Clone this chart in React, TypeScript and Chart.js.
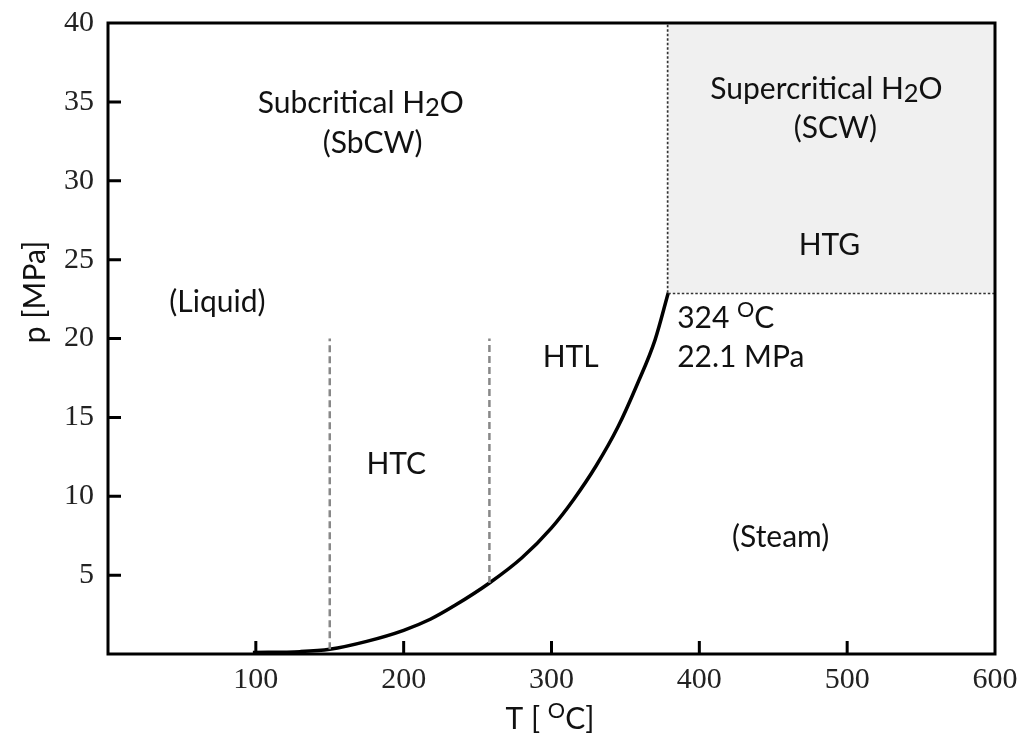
import React, { useEffect, useRef } from "react";
import { Chart, registerables } from "chart.js";

Chart.register(...registerables);

// Saturation curve (T in °C, p in MPa)
const CURVE_T = [98, 130, 150, 175, 200, 218, 235, 258, 280, 300, 315, 330, 345, 358, 370, 379];
const CURVE_P = [0.1, 0.15, 0.3, 0.8, 1.5, 2.2, 3.1, 4.5, 6.1, 8.0, 9.8, 11.9, 14.4, 17.1, 19.9, 22.9];

// Process boundaries
const HTC_LINE_T = [150, 150];
const HTC_LINE_P = [0.3, 20];
const HTL_LINE_T = [258, 258];
const HTL_LINE_P = [4.5, 20];

// Critical point boundaries
const CRIT_T = 379;
const CRIT_P = 22.9;
const T_MAX = 600;
const P_MAX = 40;

const X_TICKS = [0, 100, 200, 300, 400, 500, 600];
const Y_TICKS = [0, 5, 10, 15, 20, 25, 30, 35, 40];

// Region labels: [T, p] positions
const LABELS: { text: string[]; t: number; p: number; align: "center" | "left" }[] = [
  { text: ["Subcritical H", "_2", "O"], t: 171, p: 34.9, align: "center" },
  { text: ["(SbCW)"], t: 179, p: 32.4, align: "center" },
  { text: ["Supercritical H", "_2", "O"], t: 486, p: 35.8, align: "center" },
  { text: ["(SCW)"], t: 492, p: 33.3, align: "center" },
  { text: ["HTG"], t: 488, p: 25.9, align: "center" },
  { text: ["324 ", "^O", "C"], t: 385, p: 21.3, align: "left" },
  { text: ["22.1 MPa"], t: 385, p: 18.8, align: "left" },
  { text: ["HTL"], t: 313, p: 18.8, align: "center" },
  { text: ["HTC"], t: 195, p: 12.0, align: "center" },
  { text: ["(Liquid)"], t: 74, p: 22.3, align: "center" },
  { text: ["(Steam)"], t: 455, p: 7.4, align: "center" },
];

const SANS = "Lato, 'Open Sans', sans-serif";
const FS = 30;

function drawRich(ctx: CanvasRenderingContext2D, parts: string[], x: number, y: number, align: string, size: number) {
  const segs = parts.map((p) => {
    if (p.startsWith("_")) return { t: p.slice(1), s: size * 0.85, dy: size * 0.16 };
    if (p.startsWith("^")) return { t: p.slice(1), s: size * 0.72, dy: -size * 0.28 };
    return { t: p, s: size, dy: 0 };
  });
  let total = 0;
  for (const s of segs) {
    ctx.font = `${s.s}px ${SANS}`;
    total += ctx.measureText(s.t).width;
  }
  let cx = align === "center" ? x - total / 2 : x;
  ctx.textAlign = "left";
  ctx.textBaseline = "middle";
  for (const s of segs) {
    ctx.font = `${s.s}px ${SANS}`;
    ctx.fillText(s.t, cx, y + s.dy);
    cx += ctx.measureText(s.t).width;
  }
}

const overlayPlugin = {
  id: "overlay",
  afterDraw(chart: any) {
    const { ctx, chartArea, scales } = chart;
    const xs = scales.x;
    const ys = scales.y;
    ctx.save();
    // frame
    ctx.strokeStyle = "#000";
    ctx.lineWidth = 3;
    ctx.strokeRect(chartArea.left, chartArea.top, chartArea.right - chartArea.left, chartArea.bottom - chartArea.top);
    // inward ticks
    ctx.lineWidth = 3;
    ctx.beginPath();
    for (const v of Y_TICKS) {
      if (v === 0 || v === P_MAX) continue;
      const py = ys.getPixelForValue(v);
      ctx.moveTo(chartArea.left, py);
      ctx.lineTo(chartArea.left + 13, py);
    }
    for (const v of X_TICKS) {
      if (v === 0 || v === T_MAX) continue;
      const px = xs.getPixelForValue(v);
      ctx.moveTo(px, chartArea.bottom);
      ctx.lineTo(px, chartArea.bottom - 13);
    }
    ctx.stroke();
    // labels
    ctx.fillStyle = "#111";
    for (const l of LABELS) {
      drawRich(ctx, l.text, xs.getPixelForValue(l.t), ys.getPixelForValue(l.p), l.align, FS);
    }
    // axis titles
    ctx.save();
    ctx.translate(35, 292);
    ctx.rotate(-Math.PI / 2);
    drawRich(ctx, ["p [MPa]"], 0, 0, "center", FS);
    ctx.restore();
    drawRich(ctx, ["T [ ", "^O", "C]"], 550, 719, "center", FS);
    ctx.restore();
  },
};

function zeroPad(s: any) {
  s.paddingTop = 0;
  s.paddingBottom = 0;
  s.paddingLeft = 0;
  s.paddingRight = 0;
}

export default function App() {
  const ref = useRef<HTMLCanvasElement>(null);
  useEffect(() => {
    if (!ref.current) return;
    const curve = CURVE_T.map((t, i) => ({ x: t, y: CURVE_P[i] }));
    const htc = HTC_LINE_T.map((t, i) => ({ x: t, y: HTC_LINE_P[i] }));
    const htl = HTL_LINE_T.map((t, i) => ({ x: t, y: HTL_LINE_P[i] }));
    const dotted = { borderColor: "#333", borderWidth: 3, borderDash: [2.5, 2], pointRadius: 0, showLine: true };
    const dashed = { borderColor: "#888", borderWidth: 2.5, borderDash: [7, 4], pointRadius: 0, showLine: true };
    const chart = new Chart(ref.current, {
      type: "scatter",
      data: {
        datasets: [
          {
            data: [{ x: CRIT_T, y: P_MAX }, { x: T_MAX, y: P_MAX }],
            showLine: true,
            borderWidth: 0,
            borderColor: "rgba(0,0,0,0)",
            backgroundColor: "#f0f0f0",
            pointRadius: 0,
            fill: { value: CRIT_P },
          } as any,
          { data: [{ x: CRIT_T, y: CRIT_P }, { x: CRIT_T, y: P_MAX }], ...dotted },
          { data: [{ x: CRIT_T, y: CRIT_P }, { x: T_MAX, y: CRIT_P }], ...dotted },
          { data: htc, ...dashed },
          { data: htl, ...dashed },
          {
            data: curve,
            showLine: true,
            borderColor: "#000",
            borderWidth: 3.5,
            pointRadius: 0,
            cubicInterpolationMode: "monotone",
          } as any,
        ],
      },
      options: {
        animation: false,
        responsive: false,
        events: [],
        layout: { padding: { top: 23, right: 22, left: 0, bottom: 0 } },
        plugins: { legend: { display: false }, tooltip: { enabled: false } },
        scales: {
          x: {
            type: "linear",
            min: 0,
            max: T_MAX,
            afterFit: (s: any) => { s.height = 82; zeroPad(s); },
            afterBuildTicks: (s: any) => { s.ticks = X_TICKS.map((v) => ({ value: v })); },
            grid: { display: false, drawTicks: false },
            border: { display: false },
            ticks: {
              padding: 8,
              color: "#222",
              maxRotation: 0,
              font: { family: "'Liberation Serif', serif", size: 30 },
              callback: (v: any) => (v === 0 ? "" : String(v)),
            },
          },
          y: {
            type: "linear",
            min: 0,
            max: P_MAX,
            afterFit: (s: any) => { s.width = 108; zeroPad(s); },
            afterBuildTicks: (s: any) => { s.ticks = Y_TICKS.map((v) => ({ value: v })); },
            grid: { display: false, drawTicks: false },
            border: { display: false },
            ticks: {
              padding: 14,
              color: "#222",
              font: { family: "'Liberation Serif', serif", size: 30 },
              callback: (v: any) => (v === 0 ? "" : String(v)),
            },
          },
        },
      },
      plugins: [overlayPlugin],
    });
    return () => chart.destroy();
  }, []);
  return (
    <div style={{ position: "fixed", left: 0, top: 0, width: 1017, height: 736, background: "#fff" }}>
      <canvas ref={ref} width={1017} height={736} style={{ display: "block" }} />
    </div>
  );
}
